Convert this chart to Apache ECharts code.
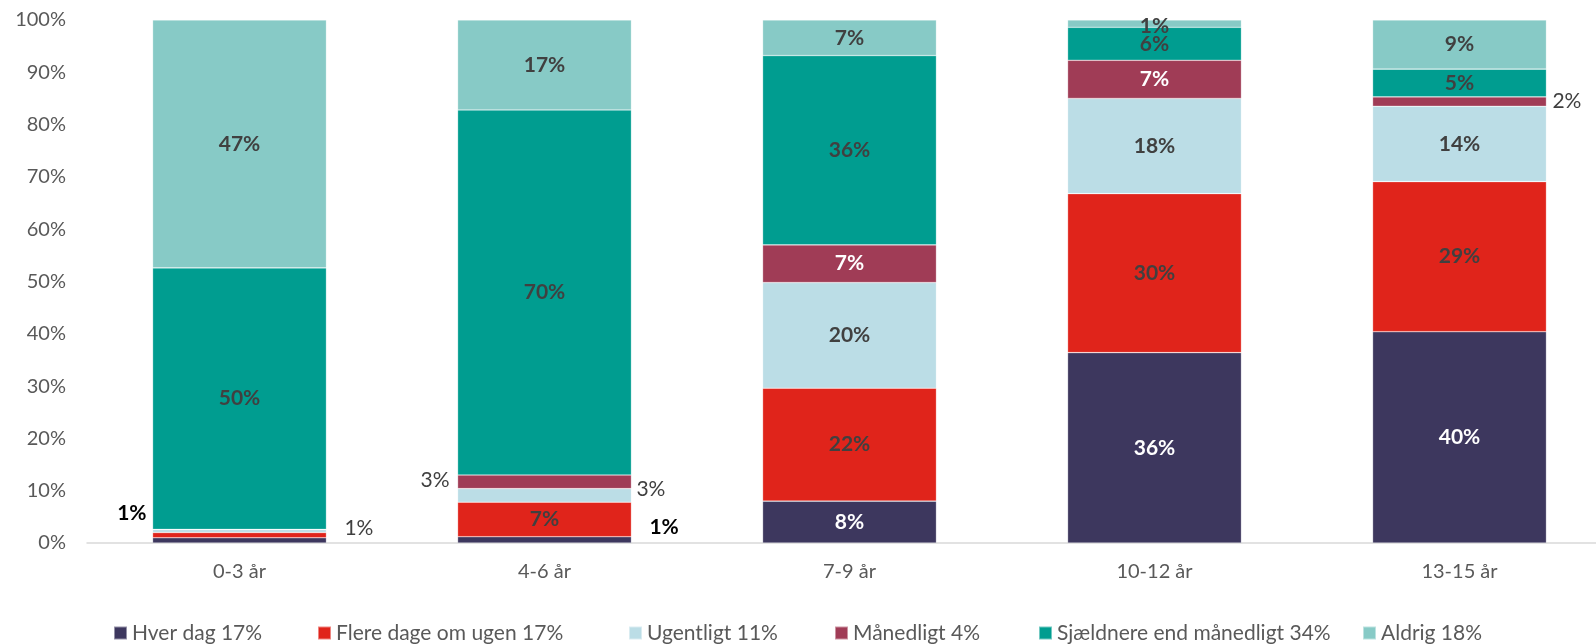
<!DOCTYPE html>
<html>
<head>
<meta charset="utf-8">
<script src="https://cdn.jsdelivr.net/npm/echarts@6/dist/echarts.min.js"></script>
<style>
  html, body { margin: 0; padding: 0; background: #fff; overflow: hidden; }
  /* plot area runs a little past the right edge in the original, so the canvas is wider than the window */
  #chart { width: 1612px; height: 644px; }
</style>
</head>
<body>
<div id="chart"></div>
<script>
const categories = ["0-3 år", "4-6 år", "7-9 år", "10-12 år", "13-15 år"];
const seriesNames = [
  "Hver dag 17%",
  "Flere dage om ugen 17%",
  "Ugentligt 11%",
  "Månedligt 4%",
  "Sjældnere end månedligt 34%",
  "Aldrig 18%"
];
const hverDag = [1.0, 1.2, 8.0, 36.4, 40.4];
const flereDage = [1.0, 6.6, 21.6, 30.4, 28.7];
const ugentligt = [0.6, 2.6, 20.2, 18.2, 14.4];
const maanedligt = [0, 2.6, 7.2, 7.3, 1.8];
const sjaeldnere = [50.0, 69.8, 36.2, 6.3, 5.3];
const aldrig = [47.4, 17.2, 6.8, 1.4, 9.4];

const values = [hverDag, flereDage, ugentligt, maanedligt, sjaeldnere, aldrig];
const colors = ["#3d375e", "#e0241b", "#bbdde6", "#a03c56", "#009d90", "#87cac6"];
const insideColors = ["#fff", "#404040", "#404040", "#fff", "#404040", "#404040"];
const legendLeft = [113, 317, 628, 834, 1038, 1362];

// per-segment label tweaks: [series, category] -> label override
const tweaks = {
  "0,0": { position: "left", distance: 6, offset: [0, -27], color: "#000", fontWeight: "bold" },
  "1,0": { position: "right", distance: 18, offset: [0, -7], color: "#404040", fontWeight: "normal" },
  "2,0": { show: false },
  "3,0": { show: false },
  "0,1": { position: "right", distance: 18, offset: [0, -13], color: "#000", fontWeight: "bold" },
  "2,1": { position: "right", distance: 5, offset: [0, -6], color: "#404040", fontWeight: "normal" },
  "3,1": { position: "left", distance: 8, offset: [0, -2], color: "#404040", fontWeight: "normal" },
  "3,4": { position: "right", distance: 6, offset: [0, 0], color: "#404040", fontWeight: "normal" },
  "5,3": { offset: [0, 3] }
};

const font = "Lato, 'Open Sans', sans-serif";

const series = seriesNames.map((name, s) => ({
  name,
  type: "bar",
  stack: "total",
  barWidth: "57%",
  itemStyle: { color: colors[s], borderColor: "rgba(255,255,255,0.45)", borderWidth: 0.6 },
  label: {
    show: true,
    position: "inside",
    fontFamily: font,
    fontSize: 21,
    fontWeight: "bold",
    color: insideColors[s],
    formatter: (p) => Math.round(p.value) + "%"
  },
  data: values[s].map((v, c) => {
    const t = tweaks[s + "," + c];
    return t ? { value: v, label: t } : v;
  })
}));

// one legend per item so each sits where it does in the original
const legends = seriesNames.map((name, i) => ({
  data: [name],
  left: legendLeft[i],
  top: 622,
  padding: 0,
  itemWidth: 13,
  itemHeight: 13,
  itemGap: 0,
  icon: "rect",
  selectedMode: false,
  textStyle: { fontFamily: font, fontSize: 21, lineHeight: 22, color: "#595959" }
}));

const chart = echarts.init(document.getElementById("chart"));
chart.setOption({
  animation: false,
  color: colors,
  grid: { left: 87, top: 20, right: 0, height: 523, containLabel: false },
  legend: legends,
  xAxis: {
    type: "category",
    data: categories,
    axisLine: { lineStyle: { color: "#d9d9d9", width: 1.5 } },
    axisTick: { show: false },
    axisLabel: { fontFamily: font, fontSize: 20, color: "#595959", margin: 19 }
  },
  yAxis: {
    type: "value",
    min: 0,
    max: 100,
    interval: 10,
    splitLine: { show: false },
    axisLine: { show: false },
    axisTick: { show: false },
    axisLabel: { fontFamily: font, fontSize: 20, color: "#595959", margin: 21, formatter: "{value}%" }
  },
  series
});
</script>
</body>
</html>
